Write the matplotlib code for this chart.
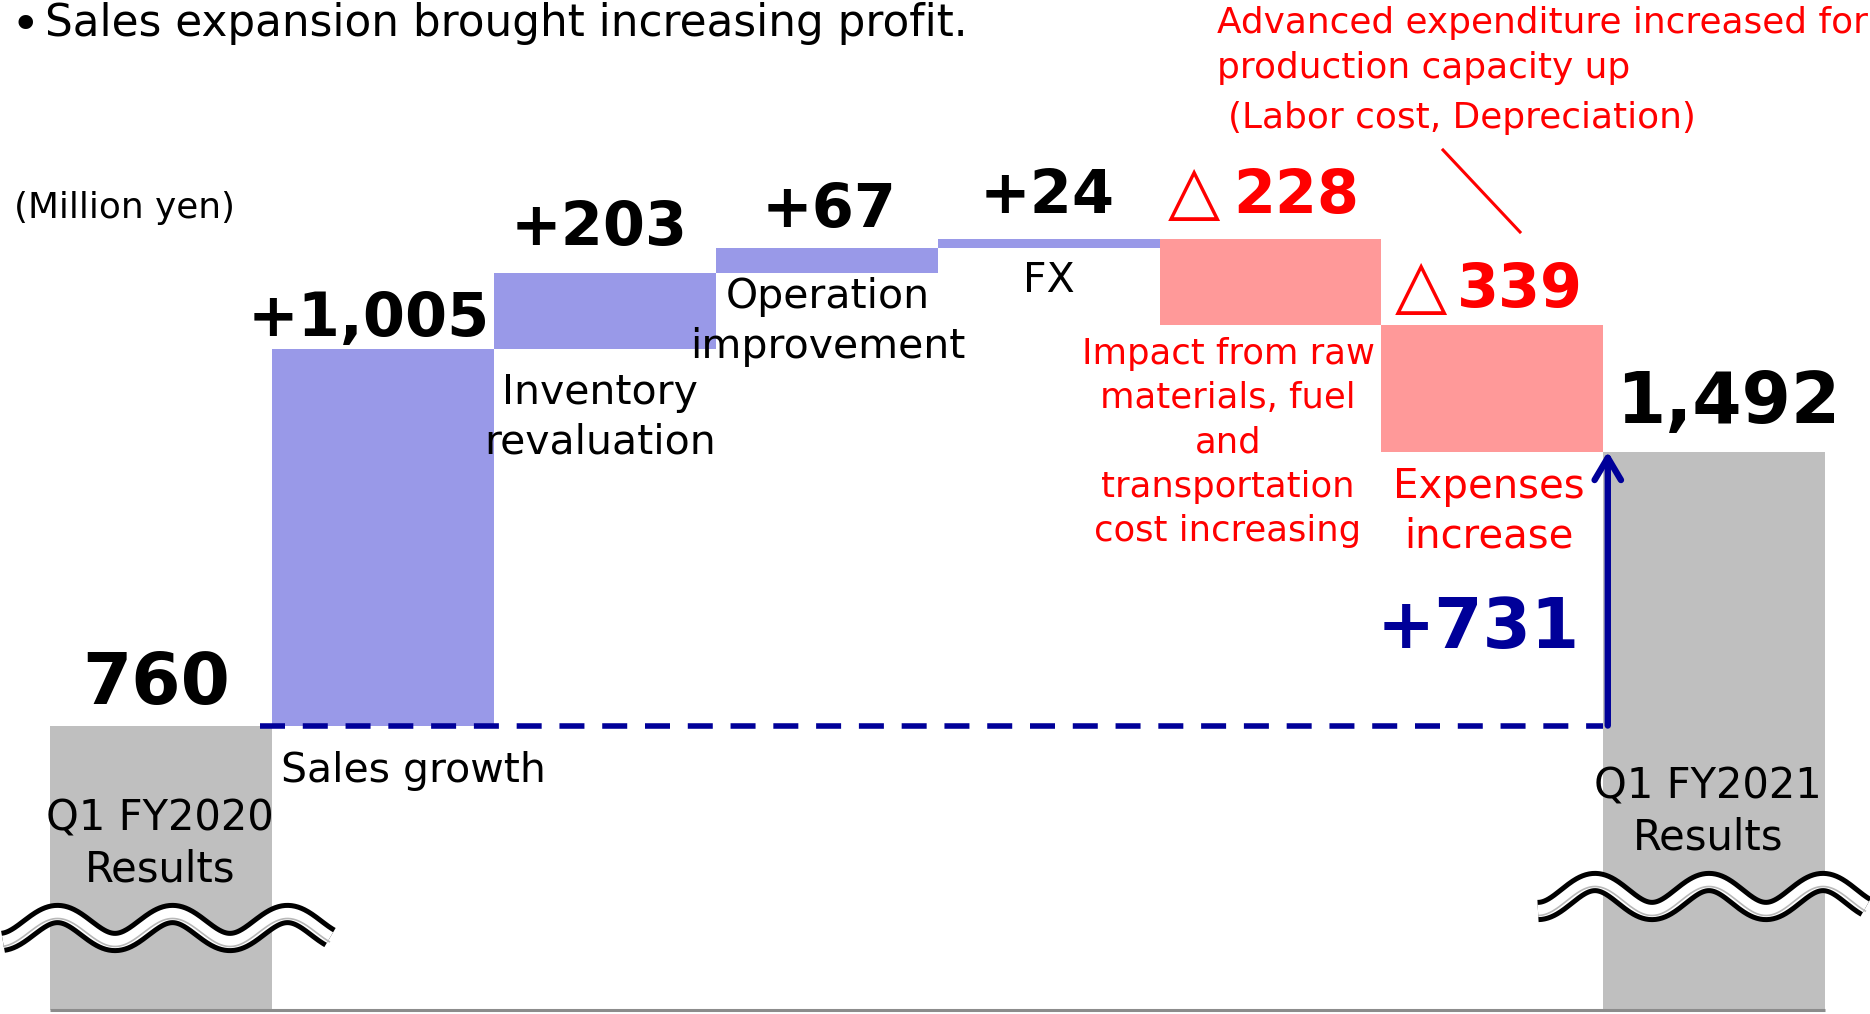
import numpy as np
import matplotlib
matplotlib.use("Agg")
import matplotlib.pyplot as plt
import matplotlib.transforms as mtransforms

# ---------------- data ----------------
categories = ["Q1 FY2020\nResults", "Sales growth", "Inventory\nrevaluation",
              "Operation\nimprovement", "FX",
              "Impact from raw\nmaterials, fuel\nand\ntransportation\ncost increasing",
              "Expenses\nincrease", "Q1 FY2021\nResults"]
start_value = 760
end_value = 1492
deltas = [1005, 203, 67, 24, -228, -339]
total_change = 731
unit_label = "(Million yen)"
title = "Sales expansion brought increasing profit."
note_lines = ["Advanced expenditure increased for", "production capacity up"]
note_sub = "(Labor cost, Depreciation)"

# ---------------- styles ----------------
BLUE = "#9999E8"
PINK = "#FF9999"
GRAY = "#BFBFBF"
NAVY = "#000099"
RED = "#FF0000"
W, H = 1870, 1014
plt.rcParams["font.family"] = ["DejaVu Sans"]

fig = plt.figure(figsize=(W / 100, H / 100), dpi=100)
ax = fig.add_axes([0, 0, 1, 1])
ax.axis("off")
ax.set_xlim(-0.7256, 7.7017)
ax.set_ylim(-10.7, 2698.4)

# pixel transform (top-left origin) for annotations/decoration
T = mtransforms.Affine2D().scale(1, -1).translate(0, H)

# ---------------- bars ----------------
levels = start_value + np.cumsum(deltas)
n = len(categories)
xs = np.arange(n)
prev = np.r_[start_value, levels[:-1]]
bottoms = [0] + [min(a, b) for a, b in zip(prev, levels)] + [0]
heights = [start_value] + [abs(d) for d in deltas] + [end_value]
colors = [GRAY] + [BLUE if d > 0 else PINK for d in deltas] + [GRAY]
ax.bar(xs, heights, bottom=bottoms, width=1.0, color=colors, edgecolor="none", zorder=2)

# baseline
ax.plot([-0.5, n - 0.5], [0, 0], color="#8C8C8C", lw=2.2, zorder=3, solid_capstyle="butt")

# dashed reference line and total arrow
ax.plot([0.446, n - 1.5], [start_value, start_value], color=NAVY, lw=4.0,
        dashes=(4.5, 3.2), zorder=4, dash_capstyle="butt")
ax.annotate("", xy=(n - 1.48, end_value), xytext=(n - 1.48, start_value),
            arrowprops=dict(arrowstyle="->,head_length=16,head_width=9.5",
                            mutation_scale=1, lw=4.6, color=NAVY,
                            shrinkA=0, shrinkB=0, capstyle="round", joinstyle="round"),
            zorder=5)

# ---------------- wavy break symbols ----------------
def wave(x0, x1, yc, amp, period, trough_x):
    x = np.linspace(x0, x1, 400)
    y = yc + amp * np.cos(2 * np.pi * (x - trough_x) / period)
    ax.plot(x, y, color="black", lw=16.0, transform=T, solid_capstyle="butt", zorder=6)
    ax.plot(x, y, color="white", lw=8.8, transform=T, solid_capstyle="butt", zorder=7)
    ax.plot(x, y + 4.5, color="#B8B8B8", lw=1.2, transform=T, solid_capstyle="butt", zorder=7)

wave(3, 330, 928, 14, 115, 0)
wave(1538, 1866, 896.5, 14.5, 114, 1538)

# ---------------- texts ----------------
def txt(x, y, s, size, color="black", weight="normal", ha="center", z=8):
    ax.text(x, y, s, transform=T, fontsize=size, color=color, fontweight=weight,
            ha=ha, va="baseline", zorder=z)

def lines(x, y0, dy, s, size, color="black", ha="center"):
    for k, line in enumerate(s.split("\n")):
        txt(x, y0 + k * dy, line, size, color, ha=ha)

txt(11, 40, "\u2022", 36, ha="left")
txt(45, 36, title, 31.5, ha="left")
txt(14, 218, unit_label, 25.8, ha="left")
txt(1217, 33, note_lines[0], 25.8, RED, ha="left")
txt(1217, 78, note_lines[1], 25.8, RED, ha="left")
txt(1228, 128, note_sub, 25.8, RED, ha="left")
ax.plot([1443, 1520], [150, 232], color=RED, lw=2.2, transform=T, zorder=8)

# category labels
lines(160, 831, 51, categories[0], 30)
txt(281, 782, categories[1], 29.5, ha="left")
lines(600, 404, 50, categories[2], 29.5)
lines(828, 308, 50, categories[3], 29.5)
txt(1049, 292, categories[4], 29.5)
lines(1228, 364, 44.3, categories[5], 25.5, RED)
lines(1489, 498, 50, categories[6], 29, RED)
lines(1708, 799, 50, categories[7], 30)

# value labels
txt(156, 704, f"{start_value:,}", 51, weight="bold")
txt(1728, 423, f"{end_value:,}", 51, weight="bold")
txt(1478, 648, f"+{total_change:,}", 50, NAVY, weight="bold")
pos_spec = [(368.5, 336), (599, 245), (829, 227), (1047, 213)]
neg_spec = [(1168, 1233, 213), (1395, 1457, 307)]
pi = ni = 0
for d in deltas:
    if d > 0:
        x, y = pos_spec[pi]; pi += 1
        txt(x, y, f"+{d:,}", 43.7, weight="bold")
    else:
        xt, xd, y = neg_spec[ni]; ni += 1
        txt(xt, y, "\u25B3", 49, RED, ha="left")
        txt(xd, y, f"{-d:,}", 43.5, RED, weight="bold", ha="left")

fig.savefig("out.png", dpi=100)
